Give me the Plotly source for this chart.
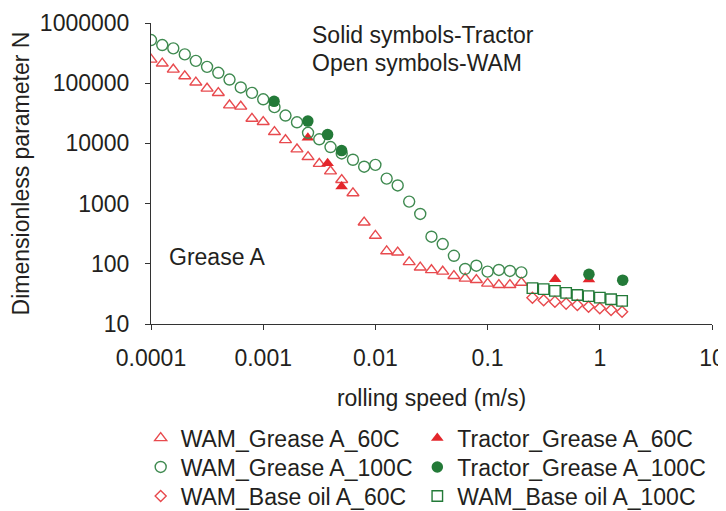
import plotly.graph_objects as go

# ---------------- data ----------------
wam_x = [0.0001, 0.000126, 0.000158, 0.0002, 0.000251, 0.000316, 0.000398, 0.000501,
         0.000631, 0.000794, 0.001, 0.00126, 0.00158, 0.002, 0.00251, 0.00316, 0.00398,
         0.00501, 0.00631, 0.00794, 0.01, 0.0126, 0.0158, 0.02, 0.0251, 0.0316, 0.0398,
         0.0501, 0.0631, 0.0794, 0.1, 0.126, 0.158, 0.2]
wam_grease_60 = [248000, 213000, 169000, 131000, 103000, 81600, 69000, 43000, 41000,
                 25800, 22800, 15500, 11400, 8000, 5960, 4590, 3450, 2480, 1490, 488,
                 293, 162, 155, 107, 87, 79, 74.5, 63, 57, 54, 47, 44.7, 44.7, 48.7]
wam_grease_100 = [521000, 430000, 379000, 301000, 235000, 187000, 149000, 115000, 85000,
                  69000, 54000, 40000, 29000, 22400, 15000, 11700, 8700, 6800, 5350, 4100,
                  4400, 2600, 2000, 1080, 673, 282, 213, 136, 82, 93, 74, 79, 76, 72]

base_x = [0.251, 0.316, 0.398, 0.501, 0.631, 0.794, 1.0, 1.26, 1.58]
base_oil_60 = [27.4, 24.8, 23.5, 21.8, 20.7, 19.4, 18.3, 17.1, 16.0]
base_oil_100 = [39.4, 37.9, 35.5, 32.9, 30.4, 29.0, 27.4, 25.8, 24.2]

tractor60_x = [0.0025, 0.00375, 0.005, 0.4, 0.8]
tractor_grease_60 = [12400, 4700, 1920, 55.6, 55]
tractor100_x = [0.00125, 0.0025, 0.00375, 0.005, 0.8, 1.6]
tractor_grease_100 = [50000, 23500, 14000, 7600, 67, 53.5]

y_ticks = [10, 100, 1000, 10000, 100000, 1000000]
y_ticktext = ["10", "100", "1000", "10000", "100000", "1000000"]
x_ticks = [0.0001, 0.001, 0.01, 0.1, 1, 10]
x_ticktext = ["0.0001", "0.001", "0.01", "0.1", "1", "10"]

# ---------------- styles ----------------
RED = "#e3262b"
RED_OPEN = "#e84a4e"
GREEN = "#237a38"
GREEN_OPEN = "#3f8a50"
TXT = "#231f20"
FONT = "Liberation Sans, Arial, sans-serif"
FS = 23

fig = go.Figure()
fig.add_trace(go.Scatter(x=wam_x, y=wam_grease_60, mode="markers", name="WAM_Grease A_60C",
                         marker=dict(symbol="triangle-up-open", size=10.5, color=RED_OPEN,
                                     line=dict(width=1.4)), legend="legend"))
fig.add_trace(go.Scatter(x=tractor60_x, y=tractor_grease_60, mode="markers",
                         name="Tractor_Grease A_60C",
                         marker=dict(symbol="triangle-up", size=11, color=RED), legend="legend2"))
fig.add_trace(go.Scatter(x=wam_x, y=wam_grease_100, mode="markers", name="WAM_Grease A_100C",
                         marker=dict(symbol="circle-open", size=11, color=GREEN_OPEN,
                                     line=dict(width=1.4)), legend="legend3"))
fig.add_trace(go.Scatter(x=tractor100_x, y=tractor_grease_100, mode="markers",
                         name="Tractor_Grease A_100C",
                         marker=dict(symbol="circle", size=11.5, color=GREEN), legend="legend4"))
fig.add_trace(go.Scatter(x=base_x, y=base_oil_60, mode="markers", name="WAM_Base oil A_60C",
                         marker=dict(symbol="diamond-open", size=8.5, color=RED_OPEN,
                                     line=dict(width=1.4)), legend="legend5"))
fig.add_trace(go.Scatter(x=base_x, y=base_oil_100, mode="markers", name="WAM_Base oil A_100C",
                         marker=dict(symbol="square-open", size=10.5, color=GREEN,
                                     line=dict(width=1.4)), legend="legend6"))

axis_common = dict(showline=True, linecolor="#333", linewidth=1, ticks="outside", ticklen=5,
                   tickcolor="#333", showgrid=False, zeroline=False, mirror=False,
                   automargin=False, tickfont=dict(family=FONT, size=FS, color=TXT))

fig.update_xaxes(type="log", range=[-4, 1], tickvals=x_ticks, ticktext=x_ticktext,
                 title=dict(text="rolling speed (m/s)", font=dict(family=FONT, size=FS, color=TXT),
                            standoff=20),
                 ticklabelstandoff=8, **axis_common)
fig.update_yaxes(type="log", range=[1, 6], tickvals=y_ticks, ticktext=y_ticktext,
                 title=dict(text="Dimensionless parameter N",
                            font=dict(family=FONT, size=FS, color=TXT), standoff=3),
                 ticklabelstandoff=11, **axis_common)

legend_common = dict(font=dict(family=FONT, size=FS, color=TXT), bgcolor="rgba(0,0,0,0)",
                     orientation="v", xanchor="left", yanchor="top", tracegroupgap=0,
                     itemwidth=30)
col_x = [-0.0184, 0.4747]
row_y = [-0.3073, -0.4037, -0.5]

# the page body adds an 8 px offset, so the figure is 8 px smaller and margins compensate
fig.update_layout(
    width=718, height=503,
    margin=dict(l=143, r=14, t=15, b=187, autoexpand=False),
    plot_bgcolor="white", paper_bgcolor="white",
    font=dict(family=FONT, size=FS, color=TXT),
    showlegend=True,
    legend=dict(x=col_x[0], y=row_y[0], **legend_common),
    legend2=dict(x=col_x[1], y=row_y[0], **legend_common),
    legend3=dict(x=col_x[0], y=row_y[1], **legend_common),
    legend4=dict(x=col_x[1], y=row_y[1], **legend_common),
    legend5=dict(x=col_x[0], y=row_y[2], **legend_common),
    legend6=dict(x=col_x[1], y=row_y[2], **legend_common),
    annotations=[
        dict(text="Solid symbols-Tractor", xref="paper", yref="paper", x=0.283, y=0.960,
             xanchor="left", yanchor="middle", showarrow=False,
             font=dict(family=FONT, size=FS, color=TXT)),
        dict(text="Open symbols-WAM", xref="paper", yref="paper", x=0.283, y=0.866,
             xanchor="left", yanchor="middle", showarrow=False,
             font=dict(family=FONT, size=FS, color=TXT)),
        dict(text="Grease A", xref="paper", yref="paper", x=0.029, y=0.2236,
             xanchor="left", yanchor="middle", showarrow=False,
             font=dict(family=FONT, size=FS, color=TXT)),
    ],
)

fig.write_html("out.html")
